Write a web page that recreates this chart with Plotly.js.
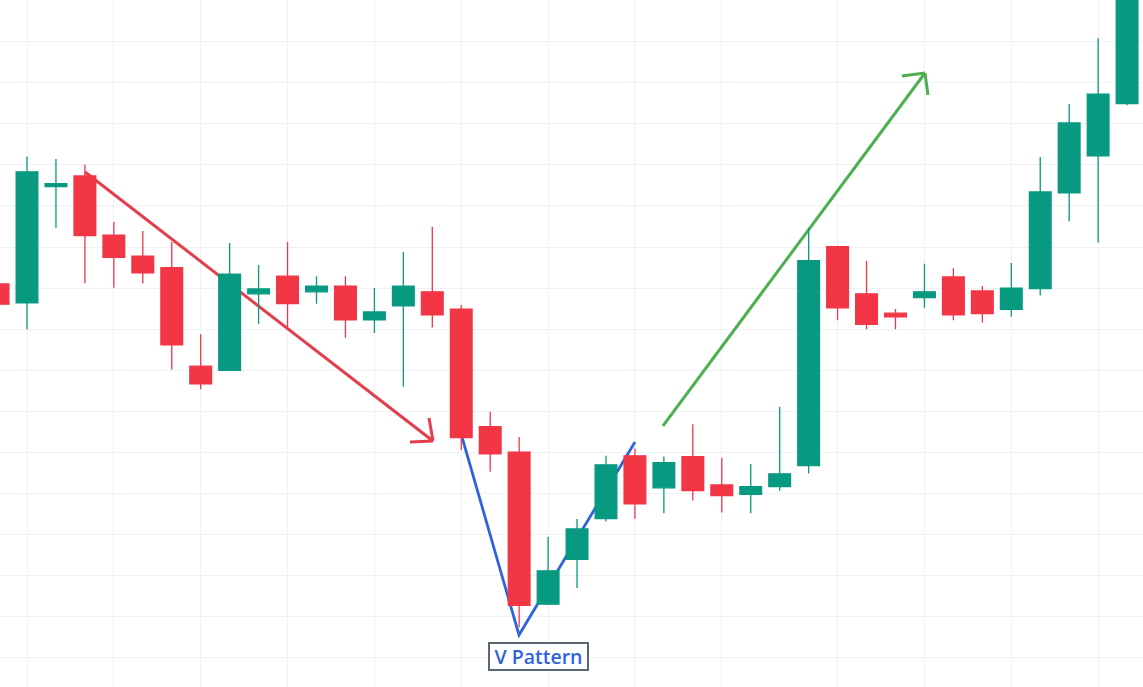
<!DOCTYPE html>
<html><head><meta charset="utf-8">
<script src="https://cdn.plot.ly/plotly-3.0.1.min.js"></script>
<style>html,body{margin:0;padding:0;background:#fff;}#chart{width:1143px;height:687px;}</style>
</head><body><div id="chart"></div>
<script>
const idx   = [0,1,2,3,4,5,6,7,8,9,10,11,12,13,14,15,16,17,18,19,20,21,22,23,24,25,26,27,28,29,30,31,32,33,34,35,36,37,38,39];
const open  = [191.0,186.4,214.7,217.3,202.9,197.8,195.0,171.0,170.0,188.6,192.9,189.1,190.5,182.3,185.7,189.1,184.9,156.3,150.1,113.1,124.0,133.9,149.2,141.4,149.0,142.1,139.8,141.7,146.8,200.1,188.6,183.9,187.7,192.7,189.3,184.8,189.9,213.2,222.2,234.9];
const high  = [192.0,222.0,221.4,220.0,206.1,203.9,201.2,178.8,201.0,195.6,201.2,192.9,192.9,190.0,198.8,204.9,185.9,159.9,153.8,129.5,133.8,149.2,151.0,149.0,156.9,148.7,147.2,161.1,204.6,200.3,196.6,184.9,195.9,194.8,190.5,196.1,221.9,234.8,250.8,268.0];
const low   = [185.2,180.0,204.7,191.2,190.1,191.1,170.2,165.4,169.8,181.3,180.5,186.2,177.9,179.1,166.0,180.4,150.6,145.3,107.5,112.9,117.0,133.2,133.9,135.2,138.3,135.4,135.2,140.7,144.9,182.2,180.0,180.0,185.2,182.2,181.6,183.0,188.2,206.2,201.1,234.5];
const close = [186.1,218.3,215.4,202.8,197.5,193.7,176.2,166.7,193.4,189.8,186.2,190.5,182.3,184.2,190.5,183.5,153.6,149.7,112.8,121.2,131.4,147.0,137.5,147.5,140.7,139.5,141.7,144.8,196.7,185.2,181.2,183.0,189.1,183.5,183.8,190.0,213.4,230.2,237.2,265.0];
// vertical grid positions (session boundaries)
const xGridTicks = [1,4,7,10,13,16,19,22,25,29,32,35,38];
// annotation drawing points [x, y]
const downTrend = [[3.003,218.25],[15.024,152.80]];
const upTrend   = [[22.969,156.45],[32.019,242.34]];
const vPattern  = [[16.026,153.77],[17.995,105.60],[22.002,152.56]];
const vLabel    = {text:'V Pattern', x:18.668, y:100.36};

const GREEN = '#089981', RED = '#f23645';

const trace = {
  type:'candlestick', x: idx, open, high, low, close,
  increasing:{line:{color:GREEN, width:1.3}, fillcolor:GREEN},
  decreasing:{line:{color:RED, width:1.3}, fillcolor:RED},
  whiskerwidth:0, hoverinfo:'skip', showlegend:false
};

function barbs(tip, color, pts){
  return pts.map(p => ({type:'line', layer:'between', xref:'x', yref:'y',
    xsizemode:'pixel', ysizemode:'pixel', xanchor:tip[0], yanchor:tip[1],
    x0:0, y0:0, x1:p[0], y1:p[1], line:{color, width:3}}));
}

const redC='#e53e4b', greenC='#4caf50', blueC='#2e63dc';
const shapes = [
  {type:'line', layer:'between', xref:'x', yref:'y', x0:downTrend[0][0], y0:downTrend[0][1], x1:downTrend[1][0], y1:downTrend[1][1], line:{color:redC, width:3}},
  ...barbs(downTrend[1], redC, [[-23,-1],[-4,23]]),
  {type:'line', layer:'between', xref:'x', yref:'y', x0:upTrend[0][0], y0:upTrend[0][1], x1:upTrend[1][0], y1:upTrend[1][1], line:{color:greenC, width:3}},
  ...barbs(upTrend[1], greenC, [[-23,-3],[3,-22]]),
  {type:'path', layer:'between', xref:'x', yref:'y',
   path:'M'+vPattern.map(p=>p[0]+','+p[1]).join(' L'), line:{color:blueC, width:2.8}}
];

const layout = {
  width:1143, height:687, margin:{l:0,r:0,t:0,b:0},
  paper_bgcolor:'#ffffff', plot_bgcolor:'#ffffff',
  boxgap:0.25, boxgroupgap:0,
  showlegend:false,
  xaxis:{range:[0.067,39.55], tickmode:'array', tickvals:xGridTicks, showticklabels:false, ticks:'',
         showgrid:true, gridcolor:'#eff1f4', gridwidth:1, zeroline:false, showline:false,
         rangeslider:{visible:false}, fixedrange:true},
  yaxis:{range:[92.94,260.1], tick0:100, dtick:10, showticklabels:false, ticks:'',
         showgrid:true, gridcolor:'#eff1f4', gridwidth:1, zeroline:false, showline:false, fixedrange:true},
  shapes,
  annotations:[{text:vLabel.text, x:vLabel.x, y:vLabel.y, xref:'x', yref:'y', showarrow:false,
    font:{family:'Open Sans', size:19.5, color:blueC, weight:600},
    bordercolor:'#5b6773', borderwidth:2, borderpad:0, bgcolor:'#ffffff', width:97, height:25}]
};

Plotly.newPlot('chart',[trace],layout,{staticPlot:true, displayModeBar:false});
</script></body></html>
